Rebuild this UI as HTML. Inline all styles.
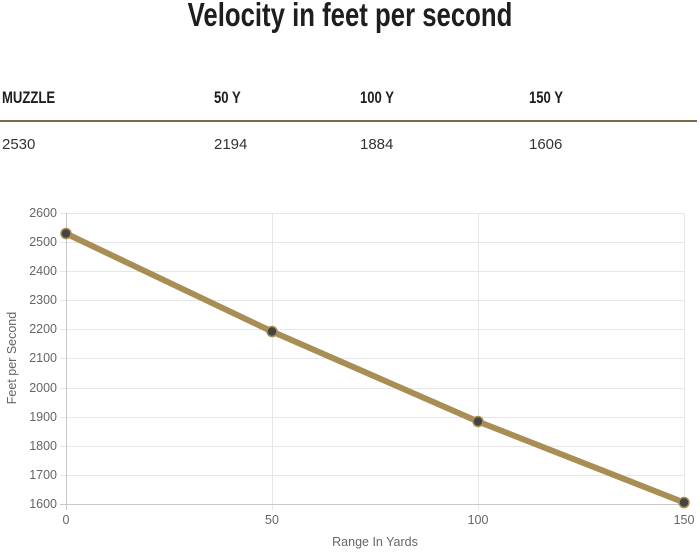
<!DOCTYPE html>
<html><head><style>
body{margin:0;width:700px;height:560px;background:#fff;position:relative;overflow:hidden;font-family:"Liberation Sans",sans-serif}
.t{position:absolute;left:0;width:700px;text-align:center;top:-4px;font-family:"Liberation Sans Narrow","Liberation Sans",sans-serif;font-weight:bold;font-size:33px;color:#1e1e1e;transform:scaleX(0.78)}
.h{position:absolute;top:88px;font-family:"Liberation Sans Narrow","Liberation Sans",sans-serif;font-weight:bold;font-size:17px;color:#1e1e1e;transform:scaleX(0.77);transform-origin:left}
.v{position:absolute;top:136px;font-size:15px;color:#333}
</style></head><body>
<div class="t">Velocity in feet per second</div>
<div class="h" style="left:2px">MUZZLE</div>
<div class="h" style="left:214px">50 Y</div>
<div class="h" style="left:360px">100 Y</div>
<div class="h" style="left:529px">150 Y</div>
<div style="position:absolute;left:0;top:120px;width:697px;height:2px;background:#7a6a4a"></div>
<div class="v" style="left:2px">2530</div>
<div class="v" style="left:214px">2194</div>
<div class="v" style="left:360px">1884</div>
<div class="v" style="left:529px">1606</div>
<svg width="700" height="560" style="position:absolute;left:0;top:0" font-family="Liberation Sans, sans-serif" font-size="12.5" fill="#666">
<g stroke="#e6e6e6" stroke-width="1">
<line x1="60" y1="213.5" x2="684" y2="213.5"/><line x1="60" y1="242.5" x2="684" y2="242.5"/><line x1="60" y1="271.5" x2="684" y2="271.5"/><line x1="60" y1="300.5" x2="684" y2="300.5"/><line x1="60" y1="329.5" x2="684" y2="329.5"/><line x1="60" y1="358.5" x2="684" y2="358.5"/><line x1="60" y1="388.5" x2="684" y2="388.5"/><line x1="60" y1="417.5" x2="684" y2="417.5"/><line x1="60" y1="446.5" x2="684" y2="446.5"/><line x1="60" y1="475.5" x2="684" y2="475.5"/>
<line x1="272.5" y1="213" x2="272.5" y2="510"/><line x1="478.5" y1="213" x2="478.5" y2="510"/><line x1="684.5" y1="213" x2="684.5" y2="510"/>
</g>
<g stroke="#c8c8c8"><line x1="66.5" y1="213" x2="66.5" y2="510"/><line x1="60" y1="504.5" x2="684" y2="504.5"/></g>
<g text-anchor="end">
<text x="57" y="217">2600</text><text x="57" y="246">2500</text><text x="57" y="275">2400</text><text x="57" y="304">2300</text><text x="57" y="333">2200</text><text x="57" y="362">2100</text><text x="57" y="392">2000</text><text x="57" y="421">1900</text><text x="57" y="450">1800</text><text x="57" y="479">1700</text><text x="57" y="508">1600</text>
</g>
<g text-anchor="middle">
<text x="66" y="524">0</text><text x="272" y="524">50</text><text x="478" y="524">100</text><text x="684" y="524">150</text>
<text x="375" y="546">Range In Yards</text>
<text transform="translate(16,358) rotate(-90)">Feet per Second</text>
</g>
<polyline points="66,233.5 272,331.5 478,421.5 684,502.5" fill="none" stroke="#a88d55" stroke-width="6" stroke-linejoin="round"/>
<g fill="#444" stroke="#a88d55" stroke-width="1.5">
<circle cx="66" cy="233.5" r="5"/><circle cx="272" cy="331.5" r="5"/><circle cx="478" cy="421.5" r="5"/><circle cx="684" cy="502.5" r="5"/>
</g>
</svg>
</body></html>
